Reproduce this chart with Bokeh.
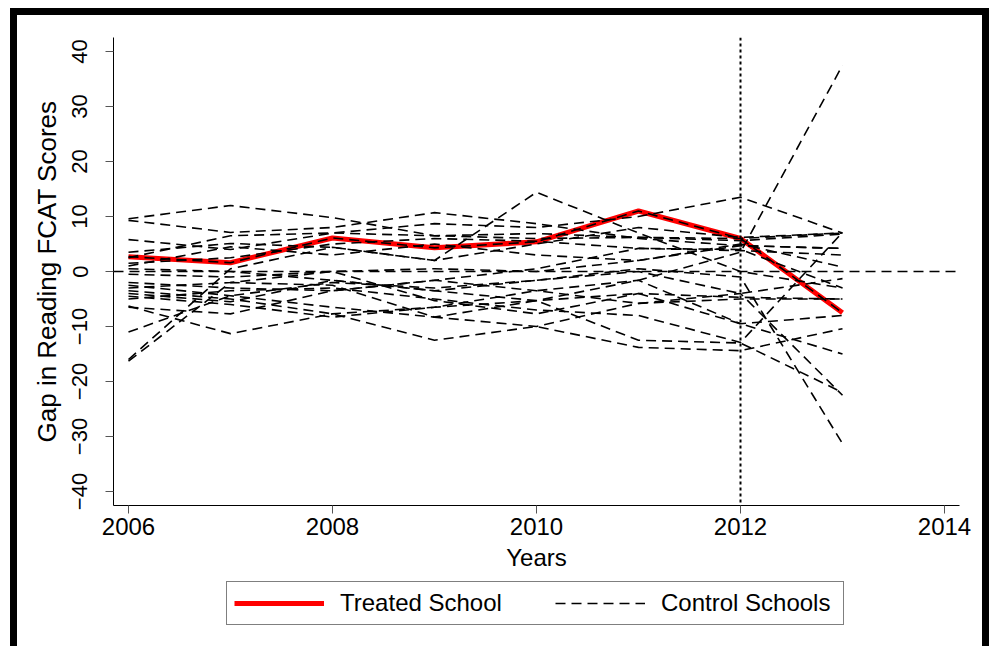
from bokeh.plotting import figure
from bokeh.models import Span, Legend, LegendItem, Range1d, FixedTicker
from bokeh.layouts import column
from bokeh.embed import file_html
from bokeh.resources import INLINE

years = [2006, 2007, 2008, 2009, 2010, 2011, 2012, 2013]
treated = [2.7, 1.6, 6.1, 4.3, 5.4, 11.0, 6.0, -7.5]

control_1 = [9.6, 12.0, 9.8, 6.5, 6.0, 6.2, 6.0, 7.0]
control_2 = [9.3, 7.1, 8.0, 10.7, 8.7, 6.0, 4.7, 4.2]
control_3 = [5.8, 4.0, 7.0, 8.7, 8.0, 10.0, 13.5, 7.0]
control_4 = [3.5, 5.1, 4.4, 2.0, 14.4, 7.0, 0.0, -3.0]
control_5 = [2.5, 6.5, 7.0, 6.5, 6.9, 6.2, 5.6, 6.8]
control_6 = [1.5, 2.5, 5.0, 6.0, 5.5, 4.2, 3.8, 3.0]
control_7 = [0.5, 0.0, -1.6, -3.5, -5.3, -1.6, 3.5, 37.5]
control_8 = [-0.5, -1.0, 0.0, 0.5, 0.0, 2.0, 5.0, 0.8]
control_9 = [-2.0, -3.0, -3.5, -1.6, -3.5, -5.8, -4.0, -22.5]
control_10 = [-2.5, -4.4, -6.5, -8.3, -5.3, -12.5, -13.0, -22.0]
control_11 = [-3.0, -2.0, 0.0, -5.3, -7.7, -4.0, -4.7, -5.0]
control_12 = [-3.5, -5.0, -7.7, -12.5, -10.0, -13.8, -14.4, -10.4]
control_13 = [-4.0, -5.5, -1.6, -3.5, -1.6, 0.5, -1.0, -31.3]
control_14 = [-4.5, -6.0, -8.3, -6.5, -5.3, -4.0, -9.5, -15.0]
control_15 = [-5.0, -3.5, -3.0, -5.0, -7.0, -8.0, -12.9, 7.1]
control_16 = [-6.3, -11.3, -7.7, -6.5, -3.5, -1.6, -9.5, -8.0]
control_17 = [-6.5, -7.7, -3.5, -1.6, 0.5, 4.2, 4.0, -3.0]
control_18 = [-11.0, -4.4, -2.0, -3.0, -1.6, 0.0, -4.0, -1.3]
control_19 = [-16.0, 0.5, 4.4, 2.0, 5.0, 8.0, 6.2, 7.0]
control_20 = [-16.3, -2.0, -2.5, -8.3, -10.0, -5.8, -5.0, -5.0]
control_21 = [1.0, 4.5, 3.0, 5.0, 3.0, 2.0, 4.7, 4.2]

controls = [control_1, control_2, control_3, control_4, control_5, control_6, control_7,
            control_8, control_9, control_10, control_11, control_12, control_13, control_14,
            control_15, control_16, control_17, control_18, control_19, control_20, control_21]

x_ticks = [2006, 2008, 2010, 2012, 2014]
y_ticks = [-40, -30, -20, -10, 0, 10, 20, 30, 40]
legend_labels = ["Treated School", "Control Schools"]

FONT = "Liberation Sans"
DASH = "10 6"

p = figure(width=965, height=566,
           x_range=Range1d(2005.853, 2014.147), y_range=Range1d(-42.55, 42.55),
           output_backend="svg", toolbar_location=None,
           min_border_left=96, min_border_right=23, min_border_top=22, min_border_bottom=76)
p.grid.visible = False
p.outline_line_color = None
p.background_fill_color = "white"
p.border_fill_color = "white"
p.styles = {"background-color": "white"}

for ax in (p.xaxis[0], p.yaxis[0]):
    ax.axis_line_color = "black"
    ax.axis_line_width = 1
    ax.major_tick_line_color = "#555555"
    ax.major_tick_out = 8
    ax.major_tick_in = 0
    ax.minor_tick_line_color = None
    ax.major_label_text_font = FONT
    ax.major_label_text_color = "black"
    ax.axis_label_text_font = FONT
    ax.axis_label_text_font_style = "normal"
    ax.axis_label_text_color = "black"

p.xaxis.ticker = FixedTicker(ticks=x_ticks)
p.yaxis.ticker = FixedTicker(ticks=y_ticks)
p.xaxis.major_label_text_font_size = "24px"
p.yaxis.major_label_text_font_size = "22px"
p.yaxis.major_label_orientation = "vertical"
p.xaxis.axis_label = "Years"
p.yaxis.axis_label = "Gap in Reading FCAT Scores"
p.xaxis.axis_label_text_font_size = "24px"
p.yaxis.axis_label_text_font_size = "26px"
p.xaxis.major_label_standoff = 4
p.yaxis.major_label_standoff = 18
p.xaxis.axis_label_standoff = 6
p.yaxis.axis_label_standoff = 8

p.add_layout(Span(location=0, dimension="width", line_color="black",
                  line_width=1.5, line_dash=DASH))
p.add_layout(Span(location=2012, dimension="height", line_color="black",
                  line_width=2, line_dash="3 3"))

p.line(years, treated, line_color="#ff0000", line_width=5)
for c in controls:
    p.line(years, c, line_color="black", line_width=1.6, line_dash=DASH)
p.line(years, treated, line_color="black", line_width=1.6, line_dash=DASH)

# legend strip below the chart (no axes, frame fills the strip)
lg = figure(width=965, height=65, x_range=Range1d(0, 1), y_range=Range1d(0, 1),
            x_axis_location=None, y_axis_location=None,
            output_backend="svg", toolbar_location=None,
            min_border=0, min_border_left=0, min_border_right=0,
            min_border_top=0, min_border_bottom=0)
lg.grid.visible = False
lg.outline_line_color = None
lg.border_fill_color = "white"
lg.background_fill_color = "white"
lg.styles = {"background-color": "white"}
r_red = lg.line([5, 6], [5, 6], line_color="#ff0000", line_width=5)
r_ctrl = lg.line([5, 6], [5, 6], line_color="black", line_width=1.6, line_dash=DASH)

legend = Legend(items=[LegendItem(label=legend_labels[0], renderers=[r_red]),
                       LegendItem(label=legend_labels[1], renderers=[r_ctrl])],
                orientation="horizontal", location=(113, 21),
                label_text_font=FONT, label_text_font_size="24px",
                label_text_color="black",
                glyph_width=90, glyph_height=16, label_standoff=16, spacing=40,
                label_width=175, padding=7, margin=0,
                border_line_color="black", border_line_width=1,
                background_fill_alpha=1.0)
lg.add_layout(legend, "center")

page = column(p, lg, spacing=0,
              styles={"background-color": "black", "padding": "7px 7px 0px 7px"},
              margin=(8, 0, 0, 10))

open("out.html", "w").write(file_html(page, INLINE))
